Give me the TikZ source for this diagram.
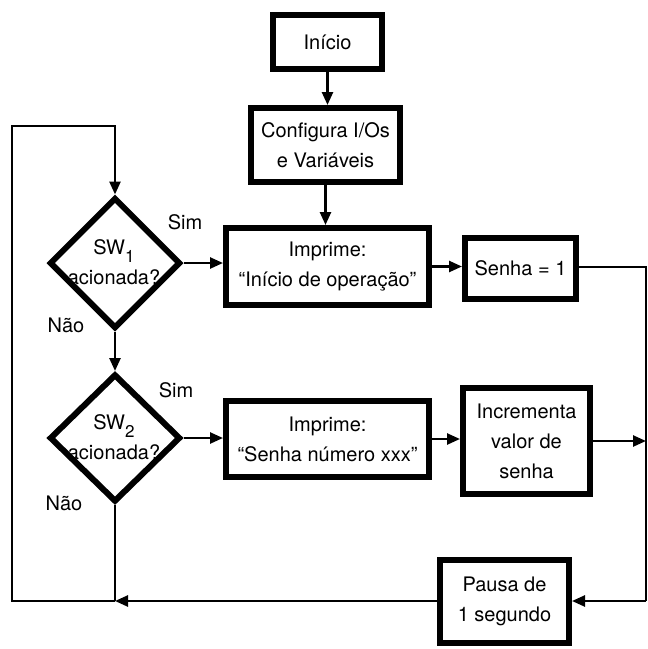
\documentclass[tikz,border=0pt]{standalone}
\usepackage{fontspec}
\setmainfont{TeX Gyre Heros}
\usetikzlibrary{shapes.geometric,arrows.meta,calc}
\begin{document}
\begin{tikzpicture}[x=1pt,y=-1pt,
  every node/.style={font=\fontsize{20}{30}\selectfont, inner sep=0pt},
  procbox/.style={draw, line width=6pt, align=center},
  decision/.style={draw, diamond, aspect=1, line width=6pt, minimum width=131pt, minimum height=131pt},
  dtext/.style={align=center},
  lbl/.style={},
  conn/.style={line width=2.5pt},
  arr/.style={conn, -{Triangle[length=13pt,width=11pt]}}
]
\useasboundingbox (0,0) rectangle (648,649);

% boxes
\node[procbox, minimum width=109pt, minimum height=54pt] (inicio) at (327.5,42) {Início};
\node[procbox, minimum width=149pt, minimum height=74pt] (config) at (325.5,145) {Configura I/Os\\e Variáveis};
\node[procbox, minimum width=203pt, minimum height=77pt] (imp1) at (327.5,266.5) {Imprime:\\“Início de operação”};
\node[procbox, minimum width=111pt, minimum height=61pt] (senha) at (520.5,268.5) {Senha = 1};
\node[procbox, minimum width=203pt, minimum height=76pt] (imp2) at (327.5,439) {Imprime:\\“Senha número xxx”};
\node[procbox, minimum width=127pt, minimum height=106pt] (incr) at (526.5,441) {Incrementa\\valor de\\senha};
\node[procbox, minimum width=129pt, minimum height=83pt] (pausa) at (504.5,601) {Pausa de\\1 segundo};

% decisions
\node[decision] (d1) at (115,263) {};
\node[dtext] (d1t) at (114,262) {SW\raisebox{-8pt}[0pt][0pt]{\fontsize{17}{17}\selectfont 1}\\acionada?};
\node[decision, minimum height=128pt] (d2) at (115,438) {};
\node[dtext] (d2t) at (114,437) {SW\raisebox{-8pt}[0pt][0pt]{\fontsize{17}{17}\selectfont 2}\\acionada?};

% labels
\node[lbl] (sim1) at (185,222) {Sim};
\node[lbl] (nao1) at (66,325) {Não};
\node[lbl] (sim2) at (176,390) {Sim};
\node[lbl] (nao2) at (64,503) {Não};

% helper coordinates
\coordinate (rtop) at (646,0);
\coordinate (junc) at (115,601);
\coordinate (lbot) at (12,601);
\coordinate (ltop) at (12,126);
\coordinate (ctop) at (115,126);

% connectors
\draw[arr] (inicio.south) -- (inicio.south |- config.north);
\draw[arr] (config.south) -- (config.south |- imp1.north);
\draw[arr] (d1.east) -- (d1.east -| imp1.west);
\draw[arr] (imp1.east) -- (senha.west |- imp1.east);
\draw[arr] (d2.east) -- (d2.east -| imp2.west);
\draw[arr] (imp2.east) -- (incr.west |- imp2.east);
\draw[arr] (d1.south) -- (d2.north);
\draw[conn] (senha.east |- 0,267) -- (rtop |- 0,267) -- (rtop |- pausa.east);
\draw[arr] (rtop |- pausa.east) -- (pausa.east);
\draw[arr] (incr.east) -- (rtop |- incr.east);
\draw[conn] (d2.south) -- (junc);
\draw[arr] (pausa.west) -- (junc);
\draw[arr, line join=miter] (junc) -- (lbot) -- (ltop) -- (ctop) -- (d1.north);
\end{tikzpicture}
\end{document}
